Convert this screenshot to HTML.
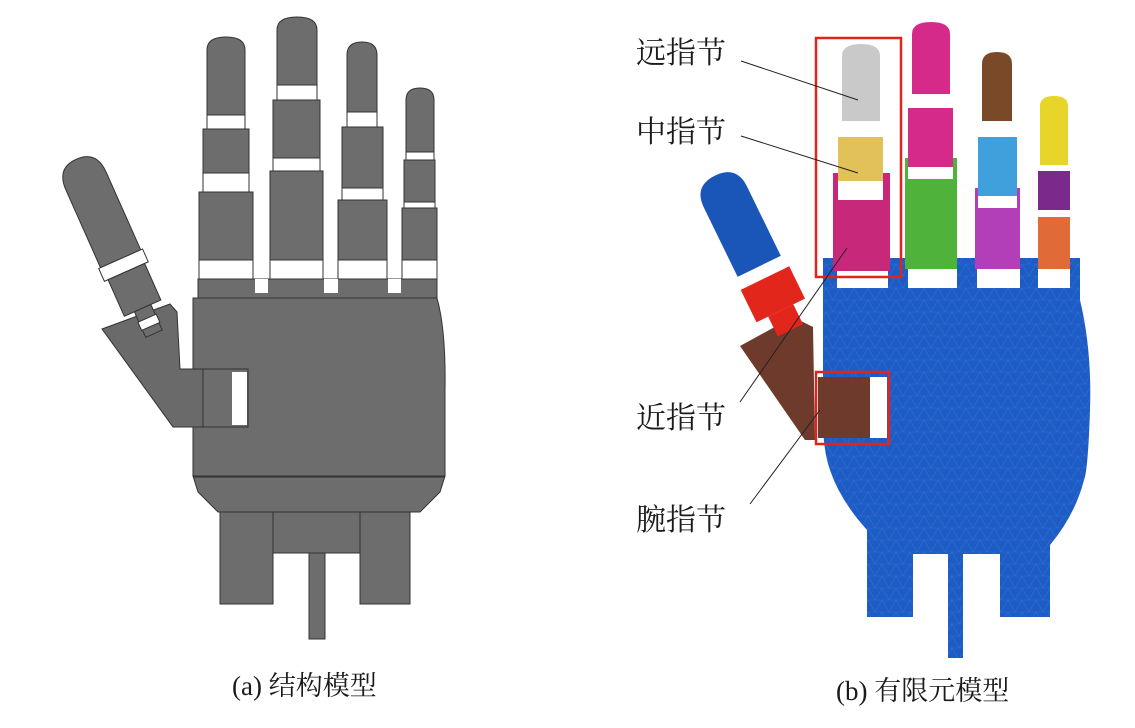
<!DOCTYPE html>
<html><head><meta charset="utf-8"><style>
html,body{margin:0;padding:0;background:#fff;}
svg{display:block;}
text{font-family:"Liberation Serif","Noto Serif CJK SC","Noto Sans CJK SC",serif;fill:#1a1a1a;}
</style></head><body>
<svg width="1135" height="728" viewBox="0 0 1135 728" xmlns="http://www.w3.org/2000/svg">
<defs>
<pattern id="mesh" width="14" height="12" patternUnits="userSpaceOnUse">
<path d="M0 0H14M0 0L7 12L14 0M0 12H14" stroke="#3f7fe0" stroke-width="0.6" fill="none" opacity="0.5"/>
</pattern>
<pattern id="grid" width="7" height="7" patternUnits="userSpaceOnUse">
<path d="M0 0H7M0 0V7" stroke="#000" stroke-width="0.5" fill="none" opacity="0.25"/>
</pattern>
</defs>

<!-- ===== LEFT HAND (gray) ===== -->
<g fill="#6d6d6d" stroke="#333" stroke-width="1">
<rect x="220" y="508" width="53" height="96"/>
<rect x="360" y="508" width="50" height="96"/>
<rect x="273" y="508" width="87" height="45"/>
<rect x="309" y="553" width="16" height="86"/>
<path d="M193 476 L445 476 L440 492 L420 512 L218 512 L198 492 Z"/>
<path d="M193 298 L437 298 Q446 330 445 390 L445 476 L193 476 Z"/>
<line x1="193" y1="477" x2="445" y2="477"/>
<rect x="198" y="279" width="239" height="19"/>
<rect x="199" y="192" width="54" height="68"/>
<rect x="203" y="129" width="46" height="44"/>
<path d="M207 115 L207 50 Q207 37 226 37 Q245 37 245 50 L245 115 Z"/>
<rect x="270" y="171" width="53" height="89"/>
<rect x="273" y="100" width="47" height="58"/>
<path d="M277 85 L277 30 Q277 17 297 17 Q317 17 317 30 L317 85 Z"/>
<rect x="338" y="200" width="49" height="60"/>
<rect x="342" y="127" width="41" height="61"/>
<path d="M347 112 L347 55 Q347 42 362 42 Q377 42 377 55 L377 112 Z"/>
<rect x="402" y="208" width="35" height="52"/>
<rect x="404" y="160" width="31" height="42"/>
<path d="M406 152 L406 100 Q406 88 420 88 Q434 88 434 100 L434 152 Z"/>
</g>
<g fill="#fff" stroke="#333" stroke-width="1">
<rect x="199" y="260" width="54" height="19"/><rect x="270" y="260" width="53" height="19"/>
<rect x="338" y="260" width="49" height="19"/><rect x="402" y="260" width="35" height="19"/>
<rect x="203" y="173" width="46" height="19"/><rect x="207" y="115" width="38" height="14"/>
<rect x="273" y="158" width="47" height="13"/><rect x="277" y="85" width="40" height="15"/>
<rect x="342" y="188" width="41" height="12"/><rect x="347" y="112" width="30" height="15"/>
<rect x="404" y="202" width="31" height="6"/><rect x="406" y="152" width="28" height="8"/>
</g>
<g fill="#fff"><rect x="255" y="279" width="13" height="14"/><rect x="324" y="279" width="14" height="14"/><rect x="388" y="279" width="13" height="14"/></g>
<path d="M102 329 L170 304 L177 312 L180 369 L203 369 L203 427 L173 427 Z" fill="#6a6a6a" stroke="#333"/>
<rect x="203" y="369" width="45" height="58" fill="#6d6d6d" stroke="#333"/>
<rect x="232" y="372" width="15" height="53" fill="#fff"/>
<g transform="translate(82,172) rotate(-24)" stroke="#333" stroke-width="1">
<path d="M-22 95 L-22 10 Q-22 -14 0 -14 Q22 -14 22 10 L22 95 Z" fill="#6d6d6d"/>
<rect x="-24" y="95" width="48" height="14" fill="#fff"/>
<rect x="-20" y="109" width="40" height="40" fill="#6d6d6d"/>
<rect x="-9" y="149" width="18" height="28" fill="#6d6d6d"/>
<rect x="-10" y="160" width="20" height="9" fill="#fff"/>
</g>

<!-- ===== RIGHT HAND (FE) ===== -->
<path id="palm" d="M823 258 L1080 258 L1080 300 Q1092 350 1090 410 Q1088 470 1084 480 Q1075 515 1050 545 L1050 617 L1000 617 L1000 554 L963 554 L963 658 L948 658 L948 554 L913 554 L913 617 L867 617 L867 530 Q840 500 830 470 Q823 450 823 420 Z" fill="#1d5cc4"/>
<path d="M823 258 L1080 258 L1080 300 Q1092 350 1090 410 Q1088 470 1084 480 Q1075 515 1050 545 L1050 617 L1000 617 L1000 554 L963 554 L963 658 L948 658 L948 554 L913 554 L913 617 L867 617 L867 530 Q840 500 830 470 Q823 450 823 420 Z" fill="url(#mesh)"/>
<g fill="#fff"><rect x="837" y="267" width="51" height="21"/><rect x="908" y="267" width="49" height="21"/><rect x="977" y="267" width="43" height="21"/><rect x="1038" y="267" width="32" height="21"/></g>
<!-- index -->
<rect x="833" y="173" width="57" height="98" fill="#c8287a"/>
<rect x="838" y="137" width="45" height="44" fill="#e2c15a"/>
<path d="M842 121 L842 56 Q842 44 861 44 Q880 44 880 56 L880 121 Z" fill="#c9c9c9"/>
<rect x="838" y="181" width="45" height="19" fill="#fff"/>
<!-- middle -->
<rect x="905" y="158" width="52" height="111" fill="#4fb23a"/>
<rect x="908" y="108" width="45" height="59" fill="#d52a8a"/>
<path d="M912 94 L912 34 Q912 22 931 22 Q950 22 950 34 L950 94 Z" fill="#d52a8a"/>
<rect x="908" y="167" width="45" height="12" fill="#fff"/><rect x="910" y="94" width="43" height="14" fill="#fff"/>
<!-- ring -->
<rect x="975" y="188" width="45" height="81" fill="#b23fb8"/>
<rect x="978" y="137" width="39" height="59" fill="#3fa0dc"/>
<path d="M982 121 L982 64 Q982 52 997 52 Q1012 52 1012 64 L1012 121 Z" fill="#7a4a28"/>
<rect x="980" y="121" width="35" height="16" fill="#fff"/><rect x="978" y="196" width="39" height="12" fill="#fff"/>
<!-- little -->
<rect x="1038" y="217" width="32" height="52" fill="#e06a38"/>
<rect x="1038" y="171" width="32" height="39" fill="#7a2a8a"/>
<path d="M1040 165 L1040 106 Q1040 96 1054 96 Q1068 96 1068 106 L1068 165 Z" fill="#e8d52a"/>
<rect x="1038" y="210" width="32" height="7" fill="#fff"/><rect x="1038" y="165" width="32" height="6" fill="#fff"/>
<!-- thumb plate right -->
<path d="M740 346 L793 317 L813 327 L815 440 L805 440 Z" fill="#6e3a2c"/>
<rect x="818" y="377" width="52" height="61" fill="#6e3a2c"/>
<rect x="870" y="377" width="17" height="61" fill="#fff"/>
<g transform="translate(722,190) rotate(-26)">
<path d="M-24 85 L-24 8 Q-24 -16 0 -16 Q24 -16 24 8 L24 85 Z" fill="#1a55b8"/>
<rect x="-25" y="85" width="50" height="13" fill="#fff"/>
<rect x="-27" y="98" width="54" height="36" fill="#e3261c"/>
<rect x="-14" y="134" width="28" height="22" fill="#e3261c"/>
</g>
<rect x="816" y="38" width="85" height="239" fill="none" stroke="#e0241c" stroke-width="2.5"/>
<rect x="816" y="372" width="73" height="72" fill="none" stroke="#e0241c" stroke-width="2.5"/>
<g stroke="#222" stroke-width="1" fill="none">
<line x1="741" y1="61" x2="858" y2="100"/>
<line x1="741" y1="136" x2="858" y2="173"/>
<line x1="740" y1="402" x2="847" y2="248"/>
<line x1="750" y1="504" x2="820" y2="410"/>
</g>
<g font-size="30">
<text x="636" y="63">远指节</text>
<text x="636" y="142">中指节</text>
<text x="636" y="428">近指节</text>
<text x="636" y="530">腕指节</text>
</g>
<text x="232" y="695" font-size="27">(a) 结构模型</text>
<text x="836" y="700" font-size="27">(b) 有限元模型</text>
</svg>
</body></html>
